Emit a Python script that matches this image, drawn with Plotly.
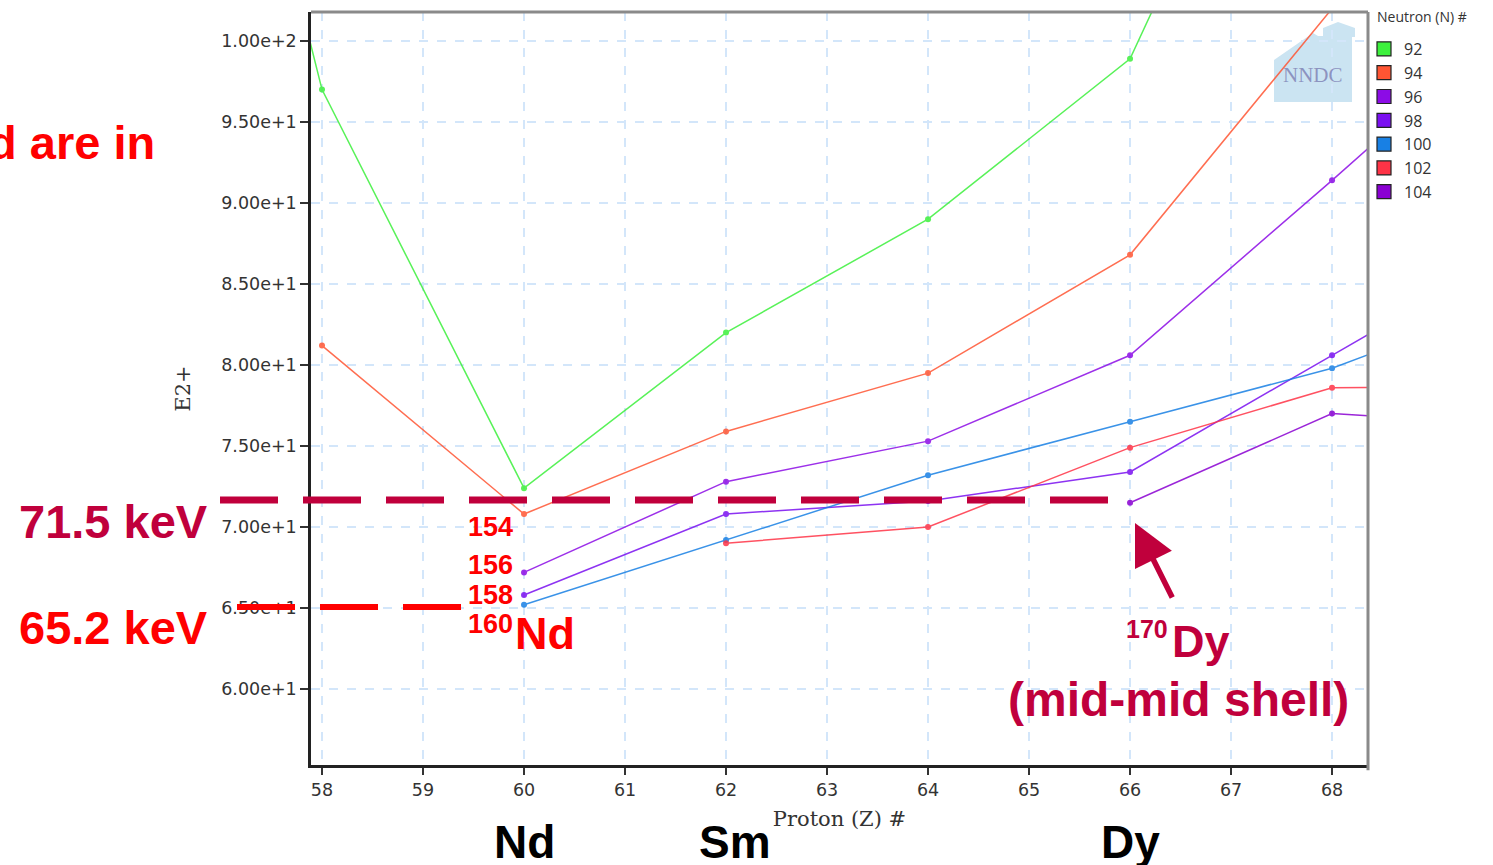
import plotly.graph_objects as go

# ---------------- data ----------------
neutron_numbers = [92, 94, 96, 98, 100, 102, 104]
series_colors = ["#3cf03c", "#ff5533", "#8c0ce6", "#7a10f0", "#1880e4", "#ff3346", "#8a00d2"]

z_n92 = [56, 58, 60, 62, 64, 66, 68]
e_n92 = [146.8, 97.0, 72.4, 82.0, 89.0, 98.9, 125.8]

z_n94 = [58, 60, 62, 64, 66, 68]
e_n94 = [81.2, 70.8, 75.9, 79.5, 86.8, 102.0]

z_n96 = [60, 62, 64, 66, 68, 70]
e_n96 = [67.2, 72.8, 75.3, 80.6, 91.4, 102.4]

z_n98 = [60, 62, 64, 66, 68, 70]
e_n98 = [65.8, 70.8, 71.6, 73.4, 80.6, 87.8]

z_n100 = [60, 62, 64, 66, 68, 70]
e_n100 = [65.2, 69.2, 73.2, 76.5, 79.8, 84.5]

z_n102 = [62, 64, 66, 68, 70]
e_n102 = [69.0, 70.0, 74.9, 78.6, 78.7]

z_n104 = [66, 68, 70]
e_n104 = [71.5, 77.0, 76.3]

x_ticks = [58, 59, 60, 61, 62, 63, 64, 65, 66, 67, 68]
y_ticks = [60, 65, 70, 75, 80, 85, 90, 95, 100]

element_z = [60, 62, 66]
element_names = ["Nd", "Sm", "Dy"]
element_xshift = [0, 9, 0]

nd_isotope_labels = ["154", "156", "158"]

series_z = [z_n92, z_n94, z_n96, z_n98, z_n100, z_n102, z_n104]
series_e = [e_n92, e_n94, e_n96, e_n98, e_n100, e_n102, e_n104]

# ---------------- layout geometry ----------------
W, H = 1493, 865
L, R, T, B = 311, 125, 12, 100
PW = W - L - R
PH = H - T - B


def px(x):
    return (x - L) / PW


def py(y):
    return (T + PH - y) / PH


CRIMSON = "#c0003c"
RED = "#ff0000"
BIG = "Liberation Sans, Arial, sans-serif"

fig = go.Figure()

for n, c, zs, es in zip(neutron_numbers, series_colors, series_z, series_e):
    fig.add_trace(go.Scatter(
        x=zs, y=es, mode="lines+markers", name=str(n), showlegend=False,
        line=dict(color=c, width=1.5), marker=dict(color=c, size=6),
        opacity=0.85,
    ))

# legend entries (square swatches)
for n, c in zip(neutron_numbers, series_colors):
    fig.add_trace(go.Scatter(
        x=[None], y=[None], mode="markers", name=str(n), showlegend=True,
        legendgroup=str(n),
        marker=dict(symbol="square", size=14, color=c, line=dict(color="#222", width=1.2)),
    ))

shapes = []
# top and right frame (grey)
shapes.append(dict(type="line", xref="paper", yref="paper", x0=0, x1=1, y0=1, y1=1,
                   line=dict(color="#8a8a8a", width=3), layer="above"))
shapes.append(dict(type="line", xref="paper", yref="paper", x0=1, x1=1, y0=-0.007, y1=1,
                   line=dict(color="#8a8a8a", width=3), layer="above"))

# NNDC logo house
house = [(1274, 102), (1274, 60), (1313, 33), (1318, 36), (1323, 36), (1323, 28), (1338, 22),
         (1355, 28), (1355, 37), (1352, 37), (1352, 102)]
path = "M " + " L ".join(f"{px(a):.5f},{py(b):.5f}" for a, b in house) + " Z"
shapes.append(dict(type="path", xref="paper", yref="paper", path=path,
                   fillcolor="#cbe4f2", line=dict(width=0), layer="between"))

# crimson dashed line (71.5 keV)
shapes.append(dict(type="line", xref="paper", yref="paper", x0=px(220), x1=px(1117),
                   y0=py(500), y1=py(500), line=dict(color=CRIMSON, width=7, dash="58px,25px"),
                   layer="above"))
# red dashed line (65.2 keV)
shapes.append(dict(type="line", xref="paper", yref="paper", x0=px(237), x1=px(462),
                   y0=py(607), y1=py(607), line=dict(color=RED, width=6, dash="58px,25px"),
                   layer="above"))

annotations = []


def text(t, x, y, size, color, xanchor="center", family=BIG, bold=True):
    annotations.append(dict(
        text=f"<b>{t}</b>" if bold else t, xref="paper", yref="paper", x=px(x), y=py(y),
        xanchor=xanchor, yanchor="middle", showarrow=False,
        font=dict(family=family, size=size, color=color)))


text("d are in", 157, 143, 47, RED, xanchor="right")
text("71.5 keV", 113, 521, 47, CRIMSON)
text("65.2 keV", 113, 627, 47, RED)
for lab, yy in zip(nd_isotope_labels, [527, 565, 595]):
    text(lab, 490, yy, 27, RED)
text("160", 490, 624, 27, RED)
text("Nd", 545, 633, 45, RED)
text("170", 1147, 629, 25, CRIMSON)
text("Dy", 1201, 641, 45, CRIMSON)
text("(mid-mid shell)", 1178, 699, 48, CRIMSON)
text("NNDC", 1313, 75, 21, "rgba(120,120,175,0.75)", family="Liberation Serif, serif", bold=False)
# legend title
text("Neutron (N) #", 1375, 17, 14, "#333", xanchor="left", family="Open Sans", bold=False)

# arrow to 170Dy
annotations.append(dict(
    x=px(1135), y=py(523), xref="paper", yref="paper", text="", showarrow=True,
    ax=38, ay=76, arrowhead=2, arrowsize=1.5, arrowwidth=5.5, arrowcolor=CRIMSON))

# element names under the axis
for zz, name, xs in zip(element_z, element_names, element_xshift):
    annotations.append(dict(
        text=f"<b>{name}</b>", xref="x", yref="paper", x=zz, y=py(842), xshift=xs,
        xanchor="center", yanchor="middle", showarrow=False,
        font=dict(family=BIG, size=46, color="#000")))

axis_common = dict(
    showgrid=True, gridcolor="#d3e6fa", griddash="dash", gridwidth=1.5,
    showline=True, linecolor="#222", linewidth=2.5, zeroline=False,
    ticks="outside", tickcolor="#333", tickwidth=1.5,
    tickfont=dict(family="DejaVu Sans", size=17.5, color="#333"),
)

fig.update_layout(
    width=W, height=H,
    margin=dict(l=L, r=R, t=T, b=B, pad=0, autoexpand=False),
    paper_bgcolor="white", plot_bgcolor="white",
    xaxis=dict(range=[57.891, 68.356], tickmode="array", tickvals=x_ticks, ticklen=7,
               title=dict(text="Proton (Z) #", standoff=13,
                          font=dict(family="DejaVu Serif", size=21, color="#333")),
               **axis_common),
    yaxis=dict(range=[55.31, 101.79], tickmode="array", tickvals=y_ticks, ticklen=8,
               tickformat=".2e",
               title=dict(text="E2+", standoff=25,
                          font=dict(family="DejaVu Serif", size=21, color="#333")),
               **axis_common),
    legend=dict(x=px(1364), y=py(32), xanchor="left", yanchor="top",
                font=dict(family="Open Sans", size=16, color="#333"),
                bgcolor="rgba(0,0,0,0)", tracegroupgap=0, itemwidth=30),
    shapes=shapes,
    annotations=annotations,
)

fig.write_html("out.html", config={"displayModeBar": False},
               post_script="document.body.style.margin='0';")
